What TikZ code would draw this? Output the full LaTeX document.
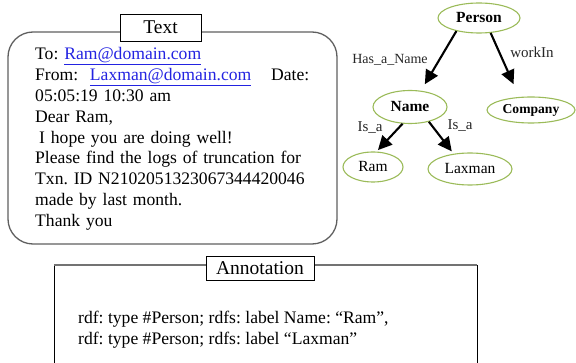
\documentclass[tikz,border=0pt]{standalone}
\usepackage{fontspec}
\setmainfont{Liberation Serif}
\usetikzlibrary{arrows.meta,shapes.geometric}
\definecolor{linkblue}{RGB}{35,35,225}
\definecolor{nodegreen}{RGB}{155,187,89}
\definecolor{boxgray}{RGB}{95,95,95}
\newcommand\lnk[1]{\textcolor{linkblue}{\underline{#1}}}
\frenchspacing
\begin{document}
\begin{tikzpicture}[x=1pt,y=-1pt,
  concept/.style={ellipse, draw=nodegreen, line width=1.1pt, fill=white, inner sep=0pt},
  rel/.style={line width=2.1pt, -{Triangle[length=14pt,width=13.5pt]}},
  rellabel/.style={inner sep=0pt, text=black!85, font=\fontsize{14}{16}\selectfont},
  titlebox/.style={draw=black, line width=0.9pt, fill=white, inner sep=0pt, font=\fontsize{19.5}{22}\selectfont}]
\useasboundingbox (0,0) rectangle (576,363);
% Text panel
\draw[boxgray, line width=1.3pt, rounded corners=25pt] (8,32) rectangle (337,244);
\node[titlebox, minimum width=81pt, minimum height=27pt] (textlabel) at (160.5,27.5) {Text};
\node[anchor=north west, inner sep=0pt, text width=274pt, align=left,
      font=\fontsize{17.6}{20.8}\selectfont] (body) at (35,47.5)
  {To: \lnk{Ram@domain.com}\\
   From:\ \ \lnk{Laxman@domain.com}\hfill Date:\\
   05:05:19 10:30 am\\
   Dear Ram,\\
   \hspace*{4pt}I hope you are doing well!\\
   \makebox[274pt][s]{Please find the logs of truncation for}\\
   \makebox[274pt][s]{Txn. ID N2102051323067344420046}\\
   made by last month.\\
   Thank you};
% Annotation panel
\coordinate (abl) at (54,363);
\coordinate (atl) at (54,265);
\coordinate (atr) at (477,265);
\coordinate (abr) at (477,363);
\draw[black, line width=1pt] (abl) -- (atl);
\draw[black!55, line width=1.2pt] (atl) -- (atr);
\draw[black, line width=1pt] (atr) -- (abr);
\node[titlebox, minimum width=108pt, minimum height=24pt] (annlabel) at (260,268) {Annotation};
\node[anchor=north west, inner sep=0pt, align=left,
      font=\fontsize{17.6}{21.8}\selectfont] (anntext) at (78,310.5)
  {rdf: type \#Person; rdfs: label Name: “Ram”,\\
   rdf: type \#Person; rdfs: label “Laxman”};
% Graph
\node[concept, minimum width=82pt, minimum height=30pt, font=\bfseries\fontsize{15.5}{17}\selectfont] (person) at (479,18) {Person};
\node[concept, minimum width=74pt, minimum height=33pt, font=\bfseries\fontsize{15.5}{17}\selectfont] (name) at (410,107) {Name};
\node[concept, minimum width=88pt, minimum height=26pt, font=\bfseries\fontsize{13.6}{15}\selectfont] (company) at (531,110) {Company};
\node[concept, minimum width=60pt, minimum height=30pt, font=\fontsize{15.5}{17}\selectfont] (ram) at (373,167) {Ram};
\node[concept, minimum width=84pt, minimum height=32pt, font=\fontsize{15.5}{17}\selectfont] (laxman) at (470,169) {Laxman};
\draw[rel, shorten >=7.5pt] (person.210) -- (name.56);
\draw[rel, shorten >=14pt] (person.308) -- (company.132);
\draw[rel, shorten >=2pt] (name.246) -- (ram.77);
\draw[rel, shorten >=3pt] (name.322) -- (laxman.137);
\node[rellabel] (lhas) at (390,60) {Has\_a\_Name};
\node[rellabel, font=\fontsize{15}{17}\selectfont] (lwork) at (532,52) {workIn};
\node[rellabel, font=\fontsize{15}{17}\selectfont] (lisa1) at (370,128) {Is\_a};
\node[rellabel, font=\fontsize{15}{17}\selectfont] (lisa2) at (460,126) {Is\_a};
\end{tikzpicture}
\end{document}
